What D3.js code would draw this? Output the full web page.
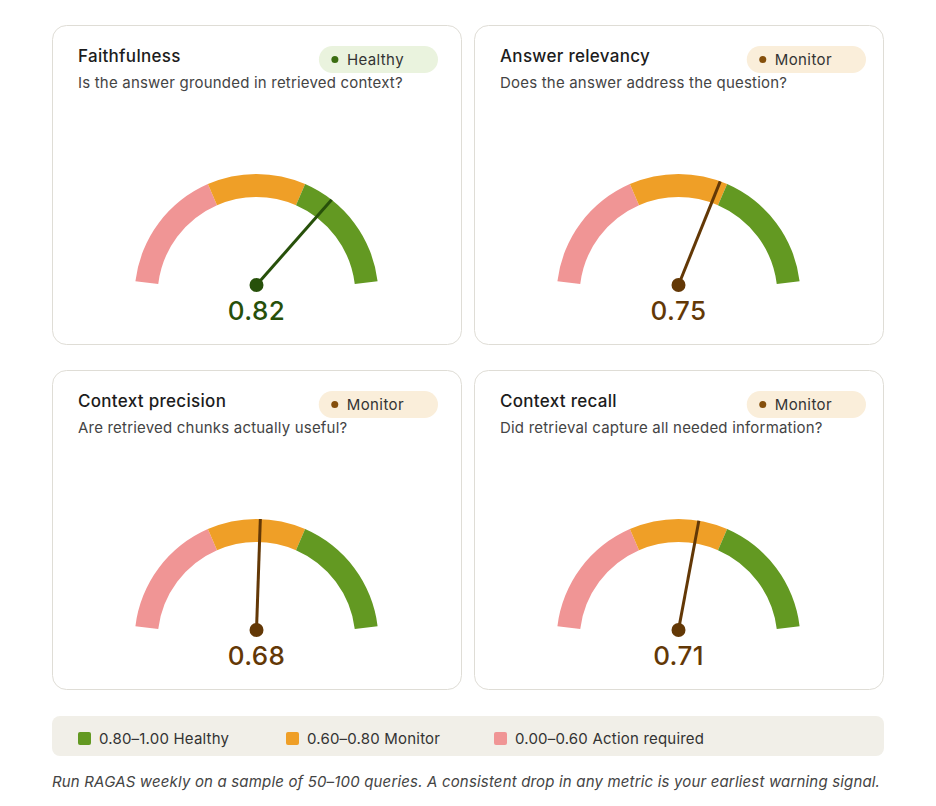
<!DOCTYPE html>
<html>
<head>
<meta charset="utf-8">
<script src="https://cdn.jsdelivr.net/npm/d3@7"></script>
<style>
  html, body { margin: 0; padding: 0; background: #fff; }
  svg { display: block; font-family: Inter, "Noto Sans", sans-serif; }
</style>
</head>
<body>
<div id="chart"></div>
<script>
// metric cards
const metrics = ["Faithfulness", "Answer relevancy", "Context precision", "Context recall"];
const questions = [
    "Is the answer grounded in retrieved context?",
    "Does the answer address the question?",
    "Are retrieved chunks actually useful?",
    "Did retrieval capture all needed information?"
];
const scores = [0.82, 0.75, 0.68, 0.71];

// gauge bands, low to high
const bandEdges = [0, 0.6, 0.8, 1.0];
const bandNames = ["Action required", "Monitor", "Healthy"];
const bandColors = ["#f09595", "#ef9f27", "#639922"];

// legend (listed high to low)
const legendLabels = ["0.80–1.00 Healthy", "0.60–0.80 Monitor", "0.00–0.60 Action required"];
const legendColors = ["#639922", "#ef9f27", "#f09595"];

const footnote = "Run RAGAS weekly on a sample of 50–100 queries. A consistent drop in any metric is your earliest warning signal.";

// status styles
const statusStyle = {
    "Healthy": {bg: "#eaf3de", dot: "#3b6d11", ink: "#27500a"},
    "Monitor": {bg: "#faeeda", dot: "#854f0b", ink: "#633806"},
    "Action required": {bg: "#fcebeb", dot: "#a32d2d", ink: "#791f1f"}
};

const width = 936, height = 806;
const card = {w: 409, h: 319, x0: 52, y0: 25, dx: 422, dy: 345, r: 14};
const badgeGap = [23, 17];   // right inset of the badge, per column
const gauge = {outer: 122, inner: 99, drop: 11, pivotY: 260};

const svg = d3.select("#chart").append("svg")
    .attr("width", width)
    .attr("height", height);

// value -> angle (degrees from 12 o'clock)
const bandAngle = d3.scaleLinear().domain(bandEdges).range([-83, -23.5, 23.5, 83]);
const needleAngle = d3.scaleLinear().domain(bandEdges).range([-83, -19, 33, 83]);
const rad = d => d * Math.PI / 180;

const arc = d3.arc()
    .innerRadius(gauge.inner)
    .outerRadius(gauge.outer);

const statusOf = v => bandNames[d3.bisectRight(bandEdges.slice(1, -1), v)];

const cards = metrics.map((m, i) => ({
    name: m, question: questions[i], score: scores[i], status: statusOf(scores[i]),
    col: i % 2, row: Math.floor(i / 2)
}));

const cardG = svg.selectAll(".cardG")
    .data(cards)
    .join("g")
    .attr("class", "cardG")
    .attr("transform", d => `translate(${card.x0 + d.col * card.dx},${card.y0 + d.row * card.dy})`);

cardG.append("rect")
    .attr("x", 0.5).attr("y", 0.5)
    .attr("width", card.w).attr("height", card.h)
    .attr("rx", card.r)
    .attr("fill", "#fff")
    .attr("stroke", "#dfddd6");

cardG.append("text")
    .attr("x", 26).attr("y", 37)
    .attr("font-size", 17).attr("font-weight", 500)
    .attr("letter-spacing", 0.3)
    .attr("fill", "#1c1c1c")
    .text(d => d.name);

cardG.append("text")
    .attr("x", 26).attr("y", 63)
    .attr("font-size", 15)
    .attr("letter-spacing", 0.2)
    .attr("fill", "#444")
    .text(d => d.question);

// status badge, right aligned
cardG.each(function (d) {
    const g = d3.select(this);
    const st = statusStyle[d.status];
    const badge = g.append("g");
    const bg = badge.append("rect")
        .attr("y", 21).attr("height", 27).attr("rx", 13.5)
        .attr("fill", st.bg);
    const dot = badge.append("circle")
        .attr("cy", 34.5).attr("r", 3.5)
        .attr("fill", st.dot);
    const label = badge.append("text")
        .attr("y", 40)
        .attr("font-size", 15)
        .attr("letter-spacing", 0.4)
        .attr("fill", "#333")
        .text(d.status);
    const tw = label.node().getComputedTextLength();
    const bw = 28 + tw + 34;
    const left = card.w - badgeGap[d.col] - bw;
    bg.attr("x", left).attr("width", bw);
    dot.attr("cx", left + 16);
    label.attr("x", left + 28);
});

// gauge
const gaugeG = cardG.append("g")
    .attr("transform", `translate(${card.w / 2},${gauge.pivotY + gauge.drop})`);

gaugeG.selectAll("path")
    .data(bandColors.map((c, j) => ({from: bandEdges[j], to: bandEdges[j + 1], color: c})))
    .join("path")
    .attr("d", b => arc({startAngle: rad(bandAngle(b.from)), endAngle: rad(bandAngle(b.to))}))
    .attr("fill", b => b.color);

gaugeG.append("line")
    .attr("x1", 0).attr("y1", -gauge.drop)
    .attr("x2", d => gauge.outer * Math.sin(rad(needleAngle(d.score))))
    .attr("y2", d => -gauge.outer * Math.cos(rad(needleAngle(d.score))))
    .attr("stroke", d => statusStyle[d.status].ink)
    .attr("stroke-width", 3);

gaugeG.append("circle")
    .attr("cx", 0).attr("cy", -gauge.drop)
    .attr("r", 7)
    .attr("fill", d => statusStyle[d.status].ink);

gaugeG.append("text")
    .attr("x", 0).attr("y", -gauge.drop + 35)
    .attr("text-anchor", "middle")
    .attr("font-size", 26).attr("font-weight", 500)
    .attr("letter-spacing", 0.4)
    .attr("fill", d => statusStyle[d.status].ink)
    .text(d => d3.format(".2f")(d.score));

// legend
const legendG = svg.append("g").attr("transform", "translate(52,716)");
legendG.append("rect")
    .attr("width", 832).attr("height", 40).attr("rx", 8)
    .attr("fill", "#f1efe8");

const legendItem = legendG.selectAll(".legendItem")
    .data(legendLabels)
    .join("g")
    .attr("class", "legendItem")
    .attr("transform", (d, i) => `translate(${26 + i * 208},16)`);

legendItem.append("rect")
    .attr("width", 13).attr("height", 13).attr("rx", 2)
    .attr("fill", (d, i) => legendColors[i]);

legendItem.append("text")
    .attr("x", 21).attr("y", 12)
    .attr("font-size", 15)
    .attr("letter-spacing", 0.2)
    .attr("fill", "#333")
    .text(d => d);

svg.append("text")
    .attr("x", 52).attr("y", 787)
    .attr("font-size", 15).attr("font-style", "italic")
    .attr("letter-spacing", 0.17)
    .attr("fill", "#444")
    .text(footnote);
</script>
</body>
</html>
